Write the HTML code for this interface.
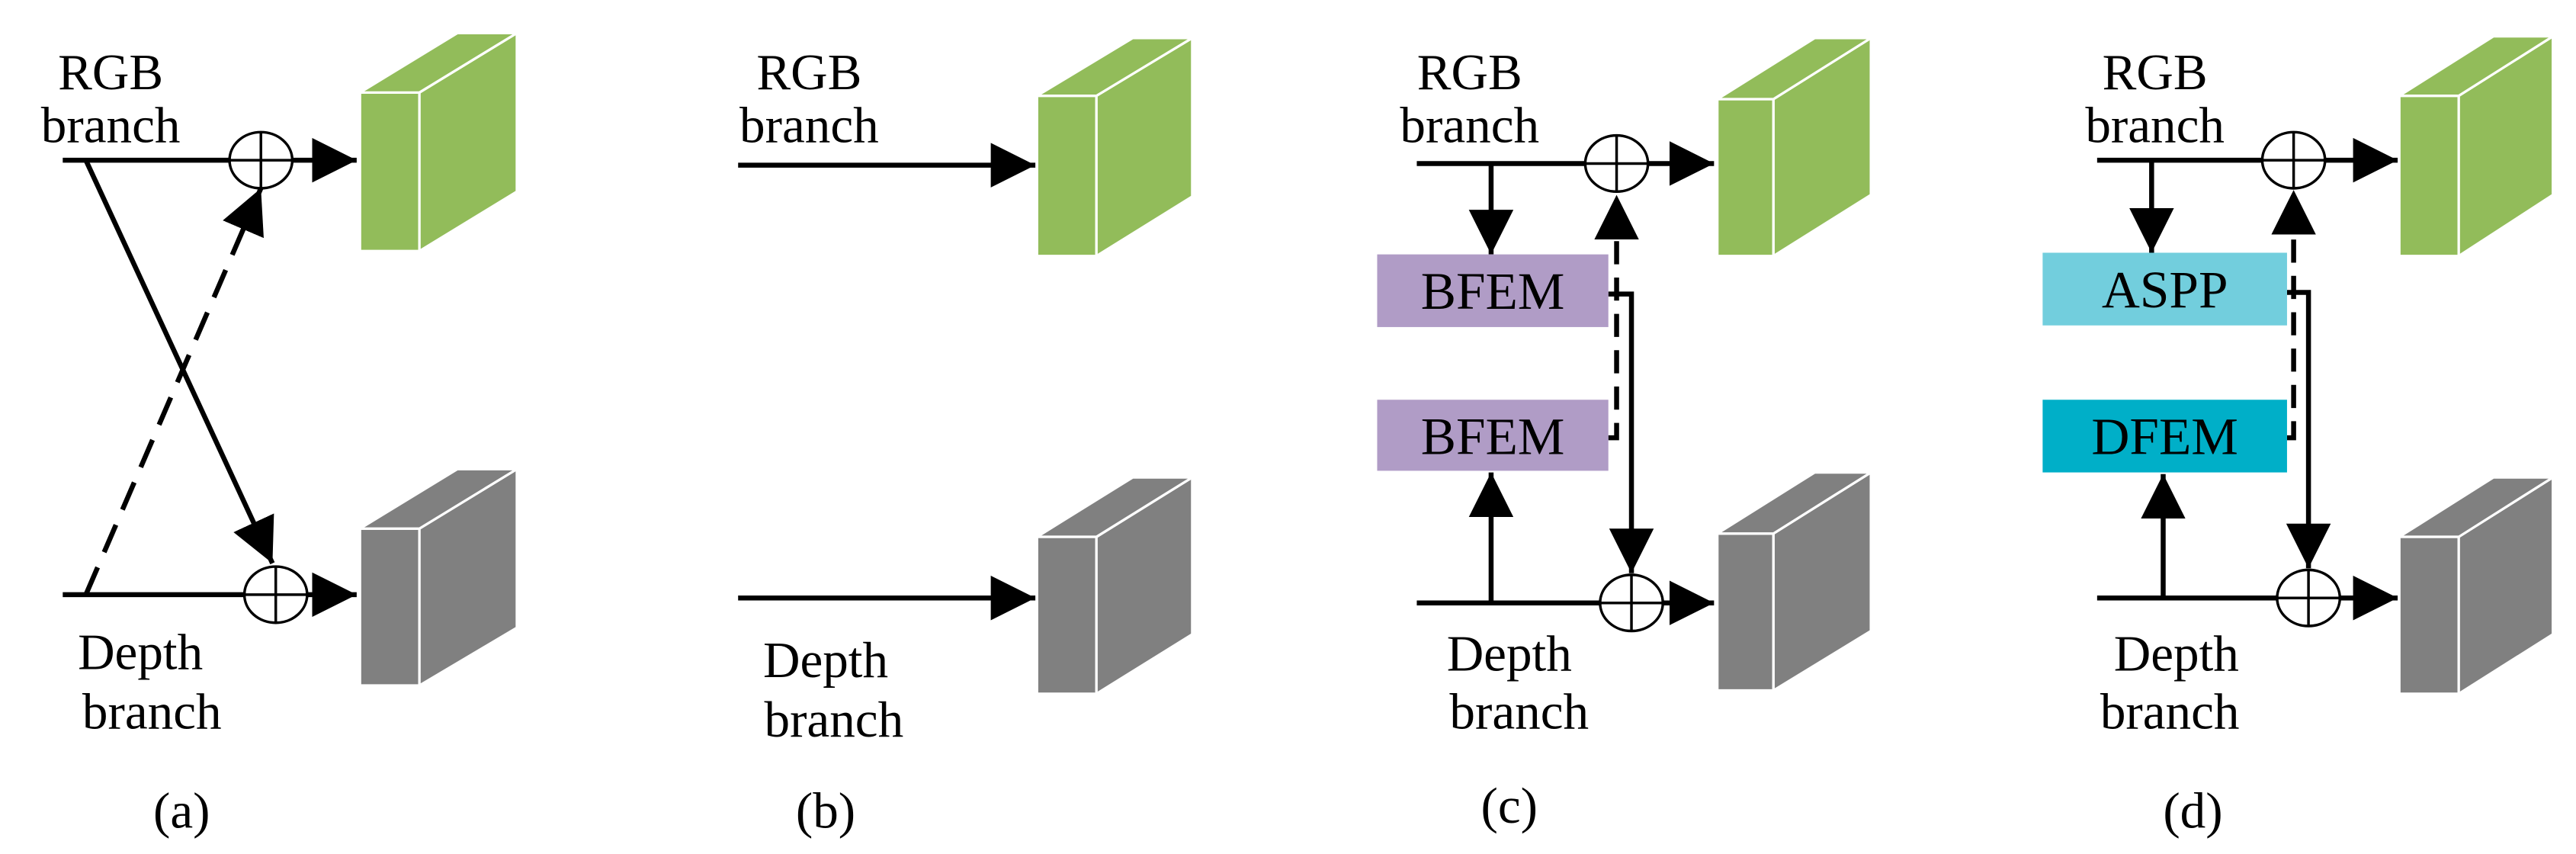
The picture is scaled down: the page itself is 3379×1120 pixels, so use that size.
<!DOCTYPE html>
<html><head><meta charset="utf-8"><style>
html,body{margin:0;padding:0;background:#fff;}
svg{display:block;}
svg text{font-family:"Liberation Serif","Times New Roman","DejaVu Serif",serif !important;}
</style></head><body>
<svg width="3379" height="1120" viewBox="0 0 1560 517" preserveAspectRatio="none" xmlns="http://www.w3.org/2000/svg">
<defs>
<marker id="ah" viewBox="0 0 10 10" refX="10" refY="5" markerWidth="27" markerHeight="27" markerUnits="userSpaceOnUse" orient="auto">
<path d="M0,0 L10,5 L0,10 z" fill="#000"/></marker>
</defs>
<g stroke="#000" stroke-width="3" fill="none">
<line x1="38" y1="97" x2="216" y2="97" marker-end="url(#ah)"/>
<line x1="38" y1="360" x2="216" y2="360" marker-end="url(#ah)"/>
<line x1="52" y1="97" x2="165" y2="341" marker-end="url(#ah)"/>
<line x1="52" y1="360" x2="158" y2="114" stroke-dasharray="18,10" marker-end="url(#ah)"/>
<line x1="447" y1="100" x2="627" y2="100" marker-end="url(#ah)"/>
<line x1="447" y1="362" x2="627" y2="362" marker-end="url(#ah)"/>
<line x1="858" y1="99" x2="1038" y2="99" marker-end="url(#ah)"/>
<line x1="858" y1="365" x2="1038" y2="365" marker-end="url(#ah)"/>
<line x1="903" y1="99" x2="903" y2="154" marker-end="url(#ah)"/>
<line x1="903" y1="365" x2="903" y2="286" marker-end="url(#ah)"/>
<polyline points="974,178 988,178 988,347" marker-end="url(#ah)"/>
<polyline points="974,265 979,265 979,118" stroke-dasharray="14,8" marker-end="url(#ah)"/>
<line x1="1270" y1="97" x2="1452" y2="97" marker-end="url(#ah)"/>
<line x1="1270" y1="362" x2="1452" y2="362" marker-end="url(#ah)"/>
<line x1="1303" y1="97" x2="1303" y2="153" marker-end="url(#ah)"/>
<line x1="1310" y1="362" x2="1310" y2="287" marker-end="url(#ah)"/>
<polyline points="1385,177 1398,177 1398,344" marker-end="url(#ah)"/>
<polyline points="1385,265 1389,265 1389,115" stroke-dasharray="14,8" marker-end="url(#ah)"/>
</g>
<g stroke="#000" stroke-width="1.6" fill="#fff">
<ellipse cx="158" cy="97" rx="19" ry="17"/>
<ellipse cx="167" cy="360" rx="19" ry="17"/>
<ellipse cx="979" cy="99" rx="19" ry="17"/>
<ellipse cx="988" cy="365" rx="19" ry="17"/>
<ellipse cx="1389" cy="97" rx="19" ry="17"/>
<ellipse cx="1398" cy="362" rx="19" ry="17"/>
</g>
<g stroke="#000" stroke-width="1.6">
<line x1="139" y1="97" x2="177" y2="97"/><line x1="158" y1="80" x2="158" y2="114"/>
<line x1="148" y1="360" x2="186" y2="360"/><line x1="167" y1="343" x2="167" y2="377"/>
<line x1="960" y1="99" x2="998" y2="99"/><line x1="979" y1="82" x2="979" y2="116"/>
<line x1="969" y1="365" x2="1007" y2="365"/><line x1="988" y1="348" x2="988" y2="382"/>
<line x1="1370" y1="97" x2="1408" y2="97"/><line x1="1389" y1="80" x2="1389" y2="114"/>
<line x1="1379" y1="362" x2="1417" y2="362"/><line x1="1398" y1="345" x2="1398" y2="379"/>
</g>
<g stroke="#fff" stroke-width="1.5" stroke-linejoin="round">
<g fill="#92BC5A">
<rect x="218" y="56" width="36" height="96"/><polygon points="254,56 313,20 313,116 254,152"/><polygon points="218,56 277,20 313,20 254,56"/>
<rect x="628" y="58" width="36" height="97"/><polygon points="664,58 722,23 722,119 664,155"/><polygon points="628,58 686,23 722,23 664,58"/>
<rect x="1040" y="60" width="34" height="95"/><polygon points="1074,60 1133,23 1133,118 1074,155"/><polygon points="1040,60 1099,23 1133,23 1074,60"/>
<rect x="1453" y="58" width="36" height="97"/><polygon points="1489,58 1546,22 1546,118 1489,155"/><polygon points="1453,58 1510,22 1546,22 1489,58"/>
</g>
<g fill="#808080">
<rect x="218" y="320" width="36" height="95"/><polygon points="254,320 313,284 313,380 254,415"/><polygon points="218,320 277,284 313,284 254,320"/>
<rect x="628" y="325" width="36" height="95"/><polygon points="664,325 722,289 722,384 664,420"/><polygon points="628,325 686,289 722,289 664,325"/>
<rect x="1040" y="323" width="34" height="95"/><polygon points="1074,323 1133,286 1133,382 1074,418"/><polygon points="1040,323 1099,286 1133,286 1074,323"/>
<rect x="1453" y="325" width="36" height="95"/><polygon points="1489,325 1546,289 1546,384 1489,420"/><polygon points="1453,325 1510,289 1546,289 1489,325"/>
</g>
</g>
<rect x="834" y="154" width="140" height="44" fill="#B09CC6"/>
<rect x="834" y="242" width="140" height="43" fill="#B09CC6"/>
<rect x="1237" y="153" width="148" height="44" fill="#72CEDD"/>
<rect x="1237" y="242" width="148" height="44" fill="#00AFC8"/>
<g font-size="32" text-anchor="middle" fill="#000">
<text x="904" y="187">BFEM</text>
<text x="904" y="275">BFEM</text>
<text x="1311" y="186">ASPP</text>
<text x="1311" y="275">DFEM</text>
</g>
<g font-size="31" text-anchor="middle" fill="#000">
<text x="67" y="54">RGB</text><text x="67" y="86">branch</text>
<text x="85" y="405">Depth</text><text x="92" y="441">branch</text>
<text x="110" y="501">(a)</text>
<text x="490" y="54">RGB</text><text x="490" y="86">branch</text>
<text x="500" y="410">Depth</text><text x="505" y="446">branch</text>
<text x="500" y="501">(b)</text>
<text x="890" y="54">RGB</text><text x="890" y="86">branch</text>
<text x="914" y="406">Depth</text><text x="920" y="441">branch</text>
<text x="914" y="498">(c)</text>
<text x="1305" y="54">RGB</text><text x="1305" y="86">branch</text>
<text x="1318" y="406">Depth</text><text x="1314" y="441">branch</text>
<text x="1328" y="501">(d)</text>
</g>
</svg>
</body></html>
